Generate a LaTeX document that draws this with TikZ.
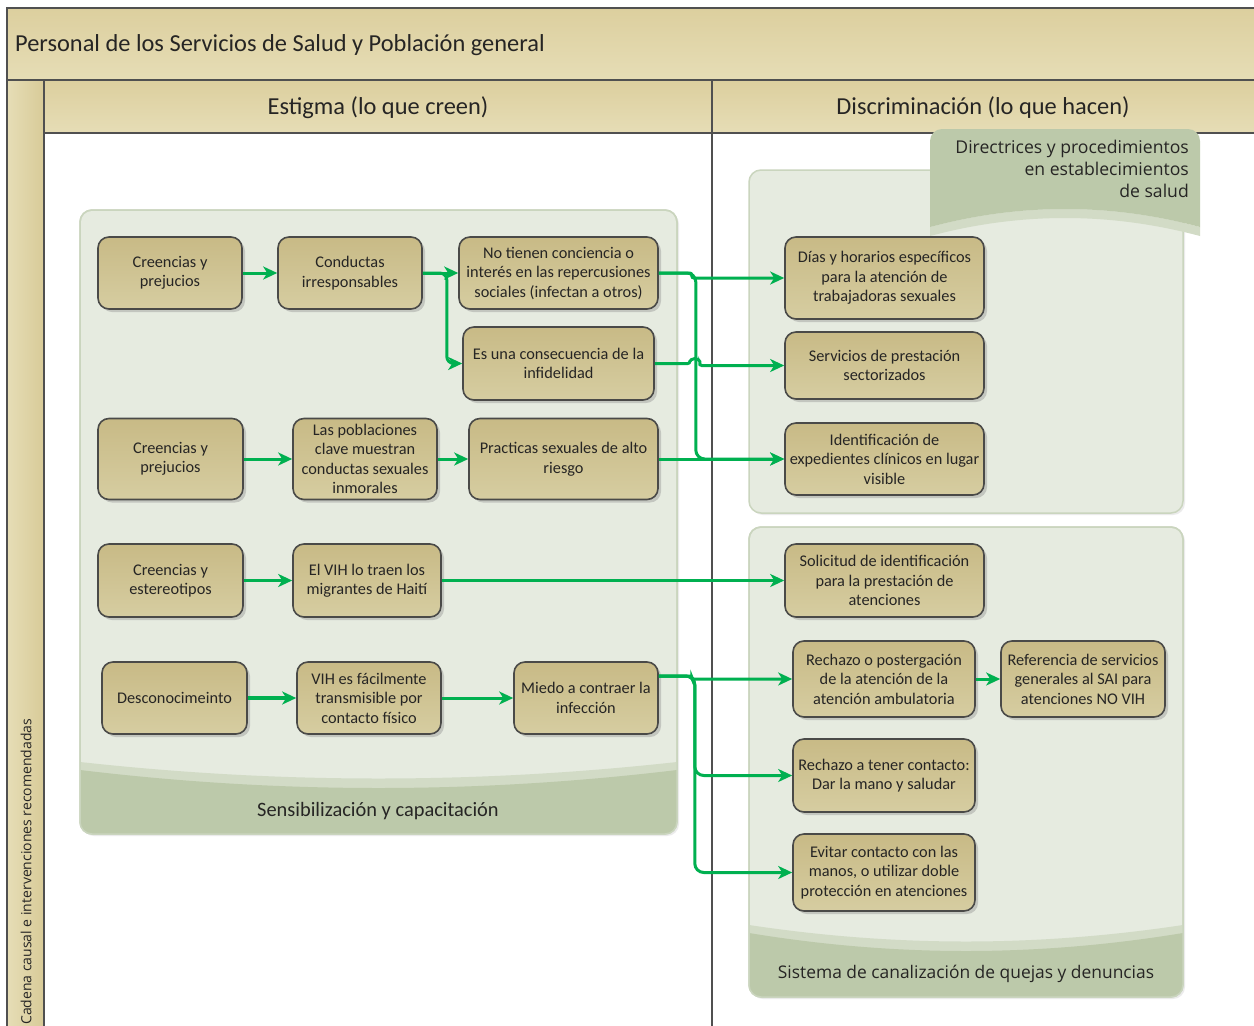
\documentclass[tikz,border=0pt]{standalone}
\usepackage{fontspec}
\setmainfont{Carlito}
\newfontfamily\osans{Open Sans}
\usetikzlibrary{arrows.meta,shadows,calc}
\definecolor{hdrA}{HTML}{DCCF9E}
\definecolor{hdrB}{HTML}{E6DDB6}
\definecolor{bandA}{HTML}{E6DDB6}
\definecolor{bandB}{HTML}{D8CB98}
\definecolor{lineC}{HTML}{505050}
\definecolor{boxA}{HTML}{C8BA86}
\definecolor{boxB}{HTML}{D6CDA1}
\definecolor{boxLine}{HTML}{4A4A48}
\definecolor{panelF}{HTML}{E6EBE0}
\definecolor{panelL}{HTML}{CAD5BE}
\definecolor{stripC}{HTML}{D2DBC6}
\definecolor{darkG}{HTML}{BCC9AA}
\definecolor{arrowG}{HTML}{00B050}
\definecolor{txt}{HTML}{262524}
\tikzset{
  cbox/.style={draw=boxLine, line width=1.6pt, rounded corners=11pt, top color=boxA, bottom color=boxB,
    align=center, inner sep=2pt, font=\fontsize{16.3}{19.5}\selectfont, text=txt,
    drop shadow={shadow xshift=3pt, shadow yshift=-3pt, fill=black!40, opacity=0.45}},
  conn/.style={draw=arrowG, line width=3pt, -{Stealth[length=14pt,width=13pt,inset=4pt]}},
  frameline/.style={draw=lineC, line width=1.5pt},
  panel/.style={fill=panelF, draw=panelL, line width=1.5pt, rounded corners=12pt,
    drop shadow={shadow xshift=2pt, shadow yshift=-2pt, fill=black!30, opacity=0.25}},
  hdrtext/.style={font=\fontsize{24.4}{28}\selectfont, text=txt, inner sep=0pt},
}
\begin{document}
\begin{tikzpicture}[x=1pt, y=-1pt]
\useasboundingbox (0,0) rectangle (1254,1026);
\fill[white] (0,0) rectangle (1254,1026);
% header bands
\fill[top color=hdrA, bottom color=hdrB] (7,8) rectangle (1254,80);
\fill[top color=hdrA, bottom color=hdrB] (44,80) rectangle (1254,133);
\fill[left color=bandA, right color=bandB] (7,80) rectangle (44,1026);
\draw[frameline] (1254,8) -- (7,8) -- (7,1026);
\draw[frameline] (7,80) -- (1254,80);
\draw[frameline] (44,80) -- (44,1026);
\draw[frameline] (44,133) -- (1254,133);
\draw[frameline] (712,80) -- (712,1026);
\node[hdrtext, anchor=west] (title) at (15,45) {Personal de los Servicios de Salud y Población general};
\node[hdrtext] (estigma) at (378,108) {Estigma (lo que creen)};
\node[hdrtext] (discrim) at (983,108) {Discriminación (lo que hacen)};
\node[rotate=90, anchor=west, inner sep=0pt, text=txt, font=\osans\fontsize{14}{16}\selectfont] (cadena) at (26,1025) {Cadena causal e intervenciones recomendadas};

% left panel
\path[panel] (80,210) rectangle (677,834);
\begin{scope}
  \clip[rounded corners=12pt] (80,210) rectangle (677,834);
  \fill[stripC] (80,762) .. controls (280,784) and (477,784) .. (677,762) -- (677,834) -- (80,834) -- cycle;
  \fill[darkG] (80,770) .. controls (280,794) and (477,794) .. (677,770) -- (677,834) -- (80,834) -- cycle;
\end{scope}
\draw[draw=panelL, line width=1.5pt, rounded corners=12pt] (80,210) rectangle (677,834);
\node[font=\fontsize{20.4}{24}\selectfont, text=txt] (sens) at (378,811) {Sensibilización y capacitación};

% right panel 1
\path[panel] (749,170) rectangle (1183,513);
\fill[stripC] (930,227) .. controls (1020,203) and (1110,203) .. (1200,227) -- (1200,236) .. controls (1110,212) and (1020,212) .. (930,236) -- cycle;
\fill[darkG] (930,227) -- (930,141) arc[start angle=180, end angle=90, radius=12pt] -- (1188,129) arc[start angle=90, end angle=0, radius=12pt] -- (1200,227) .. controls (1110,203) and (1020,203) .. (930,227) -- cycle;
\node[anchor=north east, align=right, inner sep=0pt, text=txt, font=\osans\fontsize{17.6}{22}\selectfont] (dir) at (1189,140) {Directrices y procedimientos\\en establecimientos\\de salud};

% right panel 2
\path[panel] (749,527) rectangle (1183,997);
\begin{scope}
  \clip[rounded corners=12pt] (749,527) rectangle (1183,997);
  \fill[stripC] (749,925) .. controls (895,947) and (1037,947) .. (1183,925) -- (1183,997) -- (749,997) -- cycle;
  \fill[darkG] (749,933) .. controls (895,957) and (1037,957) .. (1183,933) -- (1183,997) -- (749,997) -- cycle;
\end{scope}
\draw[draw=panelL, line width=1.5pt, rounded corners=12pt] (749,527) rectangle (1183,997);
\node[text=txt, font=\osans\fontsize{17.4}{20}\selectfont] (sist) at (966,974) {Sistema de canalización de quejas y denuncias};

% left boxes
\node[cbox, minimum width=144pt, minimum height=72pt] (b1) at (170,273) {Creencias y\\prejucios};
\node[cbox, minimum width=144pt, minimum height=72pt] (b2) at (350,273) {Conductas\\irresponsables};
\node[cbox, minimum width=199pt, minimum height=72pt] (b3) at (558.5,273) {No tienen conciencia o\\interés en las repercusiones\\sociales (infectan a otros)};
\node[cbox, minimum width=191pt, minimum height=73pt] (esuna) at (558.5,363.5) {Es una consecuencia de la\\infidelidad};
\node[cbox, minimum width=145pt, minimum height=81pt] (b4) at (170.5,459) {Creencias y\\prejucios};
\node[cbox, minimum width=144pt, minimum height=81pt] (b5) at (365,459) {Las poblaciones\\clave muestran\\conductas sexuales\\inmorales};
\node[cbox, minimum width=189pt, minimum height=81pt] (prac) at (563.5,459) {Practicas sexuales de alto\\riesgo};
\node[cbox, minimum width=145pt, minimum height=73pt] (b6) at (170.5,580.5) {Creencias y\\estereotipos};
\node[cbox, minimum width=148pt, minimum height=73pt] (b7) at (367,580.5) {El VIH lo traen los\\migrantes de Haití};
\node[cbox, minimum width=145pt, minimum height=72pt] (b8) at (174.5,698) {Desconocimeinto};
\node[cbox, minimum width=144pt, minimum height=72pt] (b9) at (369,698) {VIH es fácilmente\\transmisible por\\contacto físico};
\node[cbox, minimum width=144pt, minimum height=72pt] (miedo) at (586,698) {Miedo a contraer la\\infección};

% right boxes
\node[cbox, minimum width=199pt, minimum height=82pt] (dias) at (884.5,278) {Días y horarios específicos\\para la atención de\\trabajadoras sexuales};
\node[cbox, minimum width=199pt, minimum height=67pt] (serv) at (884.5,365.5) {Servicios de prestación\\sectorizados};
\node[cbox, minimum width=199pt, minimum height=72pt] (ident) at (884.5,459) {Identificación de\\expedientes clínicos en lugar\\visible};
\node[cbox, minimum width=199pt, minimum height=73pt] (solic) at (884.5,580.5) {Solicitud de identificación\\para la prestación de\\atenciones};
\node[cbox, minimum width=182pt, minimum height=76pt] (rech1) at (884,679) {Rechazo o postergación\\de la atención de la\\atención ambulatoria};
\node[cbox, minimum width=164pt, minimum height=76pt] (refer) at (1083,679) {Referencia de servicios\\generales al SAI para\\atenciones NO VIH};
\node[cbox, minimum width=182pt, minimum height=73pt] (rech2) at (884,775.5) {Rechazo a tener contacto:\\Dar la mano y saludar};
\node[cbox, minimum width=182pt, minimum height=77pt] (evitar) at (884,872.5) {Evitar contacto con las\\manos, o utilizar doble\\protección en atenciones};

% connectors
\draw[conn] (b1.east) -- (b2.west);
\draw[conn] (b2.east) -- (b3.west);
\draw[conn, rounded corners=7pt] (b2.east) -- ++(24,0) |- (esuna.west);
\draw[conn, rounded corners=9pt] (b3.east) -- ++(37,0) |- (ident.west);
\draw[conn, rounded corners=2pt] (b3.east) -- ++(33,0) |- (dias.west);
\draw[conn, rounded corners=2pt] (esuna.east) -- ++(35,0) arc[start angle=180, end angle=0, radius=5pt] |- (serv.west);
\draw[conn] (b4.east) -- (b5.west);
\draw[conn] (b5.east) -- (prac.west);
\draw[conn] (prac.east) -- (ident.west);
\draw[conn] (b6.east) -- (b7.west);
\draw[conn] (b7.east) -- (solic.west);
\draw[conn, line width=4.5pt] (b8.east) -- (b9.west);
\draw[conn] (b9.east) -- (miedo.west);
\coordinate (mo) at ($(miedo.east)+(0,-22)$);
\draw[conn, rounded corners=2pt] (mo) -- ++(33,0) |- (rech1.west);
\draw[conn, rounded corners=9pt] (mo) -- ++(36,0) |- (rech2.west);
\draw[conn, rounded corners=9pt] (mo) -- ++(36,0) |- (evitar.west);
\draw[conn] (rech1.east) -- (refer.west);
\end{tikzpicture}
\end{document}
